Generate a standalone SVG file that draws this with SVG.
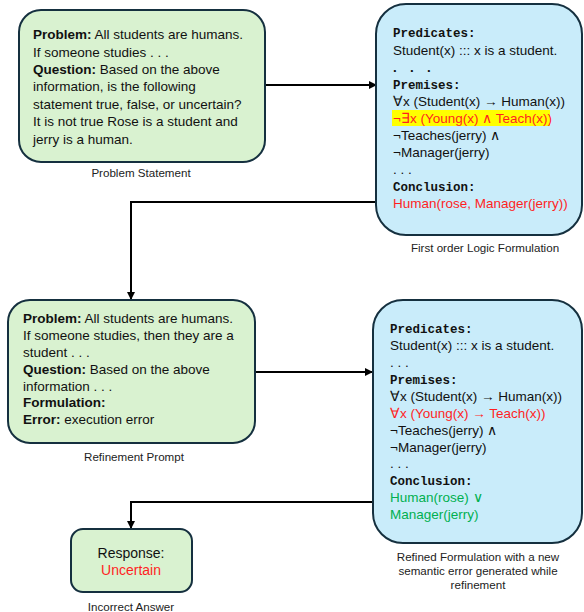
<svg xmlns="http://www.w3.org/2000/svg" width="584" height="612" viewBox="0 0 584 612">
<style>
.g{fill:#d9f2d0;stroke:#15303f;stroke-width:2}
.b{fill:#c9ecfa;stroke:#15303f;stroke-width:2}
.t{font-family:"Liberation Sans",Arial,sans-serif;font-size:13.5px;fill:#111}
.m{font-family:"Liberation Mono","DejaVu Sans Mono",monospace;font-size:12.5px;font-weight:bold;fill:#111}
.c{font-family:"Liberation Sans",Arial,sans-serif;font-size:11.6px;fill:#222;text-anchor:middle}
.bd{font-weight:bold}
.red{fill:#ff1f1f}
.grn{fill:#00b050}
.ln{fill:none;stroke:#000;stroke-width:2}
</style>
<defs>
<marker id="ah" markerWidth="8" markerHeight="8" refX="7" refY="4" orient="auto" markerUnits="userSpaceOnUse">
<path d="M0,0 L8,4 L0,8 Z" fill="#000"/>
</marker>
</defs>
<g id="connectors">
<path class="ln" d="M265,85 L376,85" marker-end="url(#ah)"/>
<path class="ln" d="M376,202 L131,202 L131,299" marker-end="url(#ah)"/>
<path class="ln" d="M255,372 L372,372" marker-end="url(#ah)"/>
<path class="ln" d="M373,502 L131,502 L131,528" marker-end="url(#ah)"/>
</g>
<g id="problem-statement">
<rect class="g" x="19" y="10" width="246" height="152" rx="22"/>
<text class="t" x="33" y="39"><tspan class="bd">Problem:</tspan> All students are humans.</text>
<text class="t" x="33" y="56.5">If someone studies . . .</text>
<text class="t" x="33" y="74"><tspan class="bd">Question:</tspan> Based on the above</text>
<text class="t" x="33" y="91">information, is the following</text>
<text class="t" x="33" y="108.5">statement true, false, or uncertain?</text>
<text class="t" x="33" y="126">It is not true Rose is a student and</text>
<text class="t" x="33" y="143.5">jerry is a human.</text>
<text class="c" x="141" y="177">Problem Statement</text>
</g>
<g id="fol-formulation">
<rect class="b" x="376" y="4" width="206" height="231" rx="30"/>
<rect x="392" y="110" width="158" height="16" fill="#ffff00"/>
<text class="m" x="393" y="37">Predicates:</text>
<text class="t" x="393" y="55">Student(x) ::: x is a student.</text>
<text class="t bd" x="393 410 427" y="72">...</text>
<text class="m" x="393" y="89">Premises:</text>
<text class="t" x="393" y="106">∀x (Student(x) → Human(x))</text>
<text class="t red" x="393" y="123">¬∃x (Young(x) ∧ Teach(x))</text>
<text class="t" x="393" y="140">¬Teaches(jerry) ∧</text>
<text class="t" x="393" y="157">¬Manager(jerry)</text>
<text class="t" x="393" y="174">. . .</text>
<text class="m" x="393" y="191">Conclusion:</text>
<text class="t red" x="393" y="208">Human(rose, Manager(jerry))</text>
<text class="c" x="485" y="252">First order Logic Formulation</text>
</g>
<g id="refinement-prompt">
<rect class="g" x="8" y="300" width="247" height="143" rx="22"/>
<text class="t" x="23" y="323"><tspan class="bd">Problem:</tspan> All students are humans.</text>
<text class="t" x="23" y="340">If someone studies, then they are a</text>
<text class="t" x="23" y="357">student . . .</text>
<text class="t" x="23" y="373.5"><tspan class="bd">Question:</tspan> Based on the above</text>
<text class="t" x="23" y="390.5">information . . .</text>
<text class="t bd" x="23" y="407">Formulation:</text>
<text class="t" x="23" y="424"><tspan class="bd">Error:</tspan> execution error</text>
<text class="c" x="134" y="461">Refinement Prompt</text>
</g>
<g id="refined-formulation">
<rect class="b" x="373" y="300" width="209" height="243" rx="30"/>
<text class="m" x="390" y="333">Predicates:</text>
<text class="t" x="390" y="350">Student(x) ::: x is a student.</text>
<text class="t" x="390" y="367">. . .</text>
<text class="m" x="390" y="384">Premises:</text>
<text class="t" x="390" y="401">∀x (Student(x) → Human(x))</text>
<text class="t red" x="390" y="418">∀x (Young(x) → Teach(x))</text>
<text class="t" x="390" y="435">¬Teaches(jerry) ∧</text>
<text class="t" x="390" y="451.5">¬Manager(jerry)</text>
<text class="t" x="390" y="468">. . .</text>
<text class="m" x="390" y="485">Conclusion:</text>
<text class="t grn" x="390" y="502">Human(rose) ∨</text>
<text class="t grn" x="390" y="518.5">Manager(jerry)</text>
<text class="c" x="478" y="561">Refined Formulation with a new</text>
<text class="c" x="478" y="575">semantic error generated while</text>
<text class="c" x="478" y="589">refinement</text>
</g>
<g id="response">
<rect class="g" x="71" y="529" width="121" height="63" rx="12"/>
<text class="t" x="131" y="558" text-anchor="middle" style="font-size:14px">Response:</text>
<text class="t red" x="131" y="575" text-anchor="middle" style="font-size:14px">Uncertain</text>
<text class="c" x="131" y="611">Incorrect Answer</text>
</g>
</svg>
